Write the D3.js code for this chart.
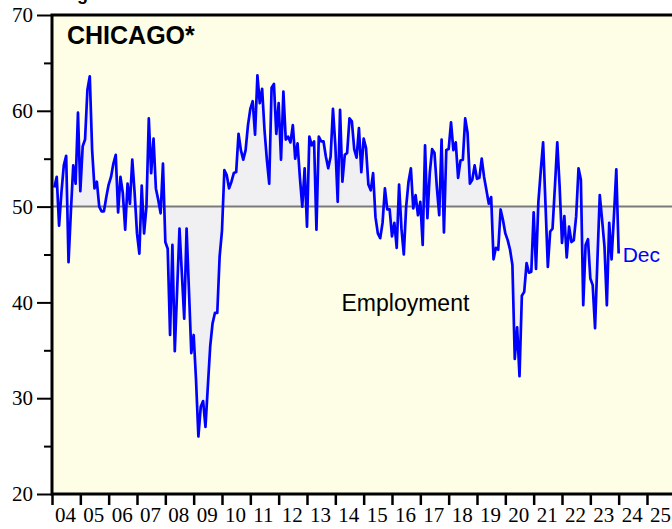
<!DOCTYPE html>
<html>
<head>
<meta charset="utf-8">
<script src="https://cdn.jsdelivr.net/npm/d3@7"></script>
<style>
  html, body { margin: 0; padding: 0; background: #ffffff; overflow: hidden; }
  svg { display: block; }
</style>
</head>
<body>
<svg id="chart" width="672" height="529"></svg>
<script>
// Monthly employment index, Jan 2004 .. Dec 2023
const startYear = 2004;
const employment = [
  52.0, 53.1, 48.0, 51.5, 54.3, 55.3, 44.2, 49.5, 54.3, 52.4, 59.8, 51.6,
  56.3, 57.0, 62.2, 63.6, 55.9, 51.9, 52.6, 50.0, 49.5, 49.5, 51.0, 52.3,
  53.1, 54.5, 55.4, 49.4, 53.1, 51.4, 47.6, 52.4, 50.3, 54.9, 51.4, 47.2,
  45.1, 52.2, 47.2, 50.0, 59.2, 53.5, 57.1, 51.9, 50.7, 49.3, 54.5, 46.3,
  45.6, 36.6, 46.0, 34.9, 41.3, 47.7, 43.0, 38.3, 47.7, 41.3, 34.7, 36.6,
  31.9, 26.0, 29.1, 29.7, 27.0, 31.2, 35.4, 37.8, 38.9, 38.9, 44.8, 47.5,
  53.8, 53.3, 51.9, 52.6, 53.5, 53.6, 57.6, 55.9, 54.9, 55.9, 58.5, 60.2,
  61.0, 57.5, 63.7, 60.8, 62.3, 58.0, 54.9, 52.4, 62.4, 62.8, 57.6, 60.8,
  54.9, 62.0, 57.0, 57.3, 56.7, 58.5, 55.0, 56.6, 53.0, 50.0, 54.0, 47.9,
  57.3, 56.4, 56.8, 47.6, 57.3, 56.8, 56.8, 55.2, 54.0, 55.2, 60.2, 56.4,
  50.5, 60.1, 52.6, 55.4, 55.6, 59.2, 58.9, 56.0, 55.1, 58.2, 53.6, 57.1,
  56.1, 52.3, 51.7, 53.5, 48.9, 47.2, 46.7, 48.3, 51.9, 49.7, 49.7, 46.9,
  48.3, 45.7, 52.3, 47.7, 45.0, 50.0, 52.6, 54.0, 49.8, 51.2, 49.1, 50.5,
  46.0, 56.4, 48.8, 53.5, 56.0, 55.6, 52.0, 49.1, 57.0, 47.3, 55.9, 56.0,
  58.8, 55.9, 56.7, 53.0, 54.8, 54.9, 59.2, 57.7, 52.4, 52.8, 54.3, 52.9,
  53.0, 55.0, 53.1, 51.7, 50.3, 51.0, 44.5, 45.7, 45.5, 49.7, 48.6, 47.2,
  46.5, 45.5, 43.9, 34.1, 37.4, 32.3, 40.7, 41.1, 44.1, 43.1, 43.2, 49.4,
  43.5, 50.5, 53.7, 56.7, 50.3, 43.7, 47.4, 47.7, 52.1, 56.7, 52.1, 46.2,
  49.0, 44.7, 47.9, 46.3, 46.5, 49.0, 54.0, 52.8, 39.7, 46.0, 46.6, 42.5,
  41.8, 37.3, 44.4, 51.2, 48.6, 45.8, 39.7, 48.3, 44.5, 49.0, 53.9, 45.1
];
const yMajorTicks = [20, 30, 40, 50, 60, 70];
const yMinorTicks = [25, 35, 45, 55, 65];
const yearTicks = d3.range(2004, 2027);
const yearLabels = ["04","05","06","07","08","09","10","11","12","13","14","15","16","17","18","19","20","21","22","23","24","25"];
const seriesLabel = "Employment";
const chartTitle = "CHICAGO*";
const lastLabel = "Dec";
const referenceLevel = 50;

const svg = d3.select("#chart");
const plotLeft = 52, plotTop = 15, plotBottom = 494;
const yearWidth = 28.333;
const x = d3.scaleLinear().domain([2004, 2026]).range([plotLeft, plotLeft + 22 * yearWidth]);
const y = d3.scaleLinear().domain([20, 70]).range([plotBottom, plotTop]);

const data = employment.map((v, i) => ({ t: startYear + (i + 1) / 12, v }));

// cut-off heading at the very top (only its descender shows, as in the reference)
svg.append("text").attr("x", 61).attr("y", 0)
  .attr("font-family", "Liberation Sans, Arial, sans-serif").attr("font-weight", "bold")
  .attr("font-size", 18).attr("fill", "#000").text("Fig");

// plot background
svg.append("rect").attr("x", plotLeft).attr("y", plotTop)
  .attr("width", 700 - plotLeft).attr("height", plotBottom - plotTop)
  .attr("fill", "#fefee6");

// area between series and reference level
const area = d3.area().x(d => x(d.t)).y0(y(referenceLevel)).y1(d => y(d.v));
svg.append("path").datum(data).attr("d", area).attr("fill", "#f0f0f2");

// reference line
svg.append("line").attr("x1", plotLeft).attr("x2", 700)
  .attr("y1", y(referenceLevel)).attr("y2", y(referenceLevel))
  .attr("stroke", "#7a7a7a").attr("stroke-width", 2);

// series line
const line = d3.line().x(d => x(d.t)).y(d => y(d.v));
svg.append("path").datum(data).attr("d", line)
  .attr("fill", "none").attr("stroke", "#0000ff").attr("stroke-width", 2.7)
  .attr("stroke-linejoin", "round");

// y axis (major + minor)
const yMajor = svg.append("g").attr("transform", `translate(${plotLeft},0)`)
  .call(d3.axisLeft(y).tickValues(yMajorTicks).tickSize(15).tickPadding(4).tickFormat(d3.format("d")));
const yMinor = svg.append("g").attr("transform", `translate(${plotLeft},0)`)
  .call(d3.axisLeft(y).tickValues(yMinorTicks).tickSize(8).tickFormat(""));
[yMajor, yMinor].forEach(g => {
  g.select(".domain").remove();
  g.selectAll(".tick line").attr("stroke", "#000").attr("stroke-width", 2);
});
yMajor.selectAll(".tick text")
  .attr("font-family", "Liberation Serif, Times New Roman, serif")
  .attr("font-size", 21).attr("fill", "#000");

// x axis
const xAxis = svg.append("g").attr("transform", `translate(0,${plotBottom})`)
  .call(d3.axisBottom(x).tickValues(yearTicks).tickSize(11)
    .tickFormat(d => yearLabels[d - 2004] || ""));
xAxis.select(".domain").remove();
xAxis.selectAll(".tick line").attr("stroke", "#000").attr("stroke-width", 2.5);
xAxis.selectAll(".tick text")
  .attr("text-anchor", "start").attr("x", 2.5).attr("y", 13).attr("dy", "0.71em")
  .attr("font-family", "Liberation Serif, Times New Roman, serif")
  .attr("font-size", 21).attr("fill", "#000");

// plot frame
svg.append("rect").attr("x", plotLeft).attr("y", plotTop)
  .attr("width", 700 - plotLeft).attr("height", plotBottom - plotTop)
  .attr("fill", "none").attr("stroke", "#000").attr("stroke-width", 3);

// title
svg.append("text").attr("x", 67).attr("y", 44)
  .attr("font-family", "Liberation Sans, Arial, sans-serif").attr("font-weight", "bold")
  .attr("font-size", 25).attr("fill", "#000").text(chartTitle);

// series label
svg.append("text").attr("x", 341.5).attr("y", 310.5)
  .attr("font-family", "Liberation Sans, Arial, sans-serif")
  .attr("font-size", 23).attr("fill", "#000").text(seriesLabel);

// last-point label
const last = data[data.length - 1];
svg.append("text").attr("x", x(last.t) + 4).attr("y", y(last.v) + 8)
  .attr("font-family", "Liberation Sans, Arial, sans-serif")
  .attr("font-size", 21).attr("fill", "#0000ff").text(lastLabel);
</script>
</body>
</html>
